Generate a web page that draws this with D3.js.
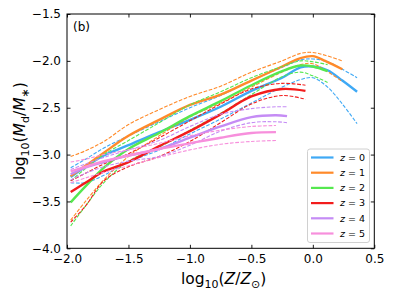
<!DOCTYPE html>
<html><head><meta charset="utf-8">
<script src="https://cdn.jsdelivr.net/npm/d3@7"></script>
<style>body{margin:0;background:#fff}svg{display:block;font-family:"DejaVu Sans",sans-serif}</style>
</head><body><svg id="c" width="394" height="296"></svg>
<script>
// ---- data (log10 Z/Zsun vs log10 Md/M*) ----
const xZ0 = [-1.97,-1.85,-1.7,-1.5,-1.25,-1.0,-0.75,-0.5,-0.25,-0.1,0.0,0.12,0.24,0.36];
const medZ0 = [-3.24,-3.13,-3.01,-2.90,-2.76,-2.63,-2.49,-2.32,-2.18,-2.07,-2.06,-2.10,-2.21,-2.33];
const upZ0  = [-3.14,-3.05,-2.93,-2.80,-2.65,-2.50,-2.37,-2.21,-2.07,-1.99,-1.98,-2.01,-2.09,-2.18];
const loZ0  = [-3.30,-3.30,-3.22,-3.08,-2.95,-2.78,-2.62,-2.45,-2.28,-2.20,-2.18,-2.28,-2.46,-2.67];

const xZ1 = [-1.97,-1.85,-1.7,-1.5,-1.25,-1.0,-0.75,-0.5,-0.25,-0.1,0.0,0.1,0.24];
const medZ1 = [-3.23,-3.12,-2.98,-2.80,-2.63,-2.47,-2.36,-2.21,-2.06,-1.97,-1.95,-2.00,-2.09];
const upZ1  = [-3.02,-2.96,-2.86,-2.68,-2.52,-2.38,-2.27,-2.12,-2.00,-1.92,-1.91,-1.94,-2.00];
const loZ1  = [-3.70,-3.50,-3.27,-3.02,-2.80,-2.60,-2.45,-2.28,-2.12,-2.04,-2.03,-2.10,-2.22];

const xZ2 = [-1.97,-1.85,-1.7,-1.5,-1.25,-1.0,-0.75,-0.5,-0.25,-0.1,0.0,0.12];
const medZ2 = [-3.51,-3.34,-3.14,-2.94,-2.77,-2.59,-2.43,-2.26,-2.11,-2.05,-2.06,-2.11];
const upZ2  = [-3.28,-3.15,-3.00,-2.85,-2.66,-2.47,-2.33,-2.18,-2.06,-2.00,-2.01,-2.04];
const loZ2  = [-3.76,-3.55,-3.30,-3.07,-2.92,-2.74,-2.56,-2.36,-2.17,-2.12,-2.16,-2.23];

const xZ3 = [-1.97,-1.85,-1.7,-1.5,-1.25,-1.0,-0.75,-0.5,-0.25,-0.06];
const medZ3 = [-3.40,-3.30,-3.18,-3.08,-2.91,-2.75,-2.57,-2.38,-2.30,-2.32];
const upZ3  = [-3.28,-3.20,-3.10,-2.99,-2.82,-2.64,-2.46,-2.30,-2.24,-2.26];
const loZ3  = [-3.72,-3.55,-3.28,-3.13,-3.02,-2.86,-2.66,-2.46,-2.37,-2.41];

const xZ4 = [-1.97,-1.85,-1.7,-1.5,-1.25,-1.0,-0.75,-0.5,-0.3,-0.21];
const medZ4 = [-3.21,-3.14,-3.08,-3.01,-2.94,-2.82,-2.70,-2.60,-2.58,-2.59];
const upZ4  = [-3.16,-3.10,-3.03,-2.95,-2.85,-2.70,-2.57,-2.51,-2.49,-2.49];
const loZ4  = [-3.27,-3.20,-3.13,-3.07,-3.02,-2.90,-2.75,-2.66,-2.65,-2.66];

const xZ5 = [-1.97,-1.85,-1.7,-1.5,-1.25,-1.0,-0.75,-0.5,-0.3];
const medZ5 = [-3.18,-3.13,-3.07,-3.01,-2.94,-2.88,-2.82,-2.77,-2.76];
const upZ5  = [-3.08,-3.05,-3.00,-2.95,-2.88,-2.80,-2.74,-2.70,-2.69];
const loZ5  = [-3.30,-3.25,-3.19,-3.12,-3.03,-2.95,-2.89,-2.86,-2.85];

const seriesLabels = ["0","1","2","3","4","5"];
const seriesColors = ["#3fa9f5","#ff8a2a","#55e84f","#f21c1c","#c58cf5","#f78fdc"];
const xTicks = [-2.0,-1.5,-1.0,-0.5,0.0,0.5];
const yTicks = [-4.0,-3.5,-3.0,-2.5,-2.0,-1.5];

const series = [
  {x:xZ0, med:medZ0, up:upZ0, lo:loZ0},
  {x:xZ1, med:medZ1, up:upZ1, lo:loZ1},
  {x:xZ2, med:medZ2, up:upZ2, lo:loZ2},
  {x:xZ3, med:medZ3, up:upZ3, lo:loZ3},
  {x:xZ4, med:medZ4, up:upZ4, lo:loZ4},
  {x:xZ5, med:medZ5, up:upZ5, lo:loZ5}
];

// ---- layout ----
const W=394,H=296, m={l:67,r:19.7,t:14,b:47.7};
const svg=d3.select("#c");
const x=d3.scaleLinear().domain([-2,0.5]).range([m.l,W-m.r]);
const y=d3.scaleLinear().domain([-4,-1.5]).range([H-m.b,m.t]);
const fmt=d=>d3.format(".1f")(d).replace("-","\u2212");

const line=d3.line().x(d=>x(d[0])).y(d=>y(d[1])).curve(d3.curveCatmullRom.alpha(0.5));
const g=svg.append("g");
series.forEach((s,i)=>{
  const c=seriesColors[i];
  [s.up,s.lo].forEach(arr=>{
    g.append("path").datum(s.x.map((v,k)=>[v,arr[k]]))
      .attr("d",line).attr("fill","none").attr("stroke",c)
      .attr("stroke-width",1.1).attr("stroke-dasharray","3.7,1.6");
  });
  g.append("path").datum(s.x.map((v,k)=>[v,s.med[k]]))
    .attr("d",line).attr("fill","none").attr("stroke",c).attr("stroke-width",2.4);
});

// ---- axes ----
const tl=3.5;
const ax=svg.append("g").attr("font-size",12).attr("fill","#000");
ax.append("g").attr("transform",`translate(0,${H-m.b})`)
  .call(d3.axisBottom(x).tickValues(xTicks).tickFormat(fmt).tickSizeInner(-tl).tickSizeOuter(0).tickPadding(6));
ax.append("g").attr("transform",`translate(0,${m.t})`)
  .call(d3.axisTop(x).tickValues(xTicks).tickFormat("").tickSizeInner(-tl).tickSizeOuter(0));
ax.append("g").attr("transform",`translate(${m.l},0)`)
  .call(d3.axisLeft(y).tickValues(yTicks).tickFormat(fmt).tickSizeInner(-tl).tickSizeOuter(0).tickPadding(6));
ax.append("g").attr("transform",`translate(${W-m.r},0)`)
  .call(d3.axisRight(y).tickValues(yTicks).tickFormat("").tickSizeInner(-tl).tickSizeOuter(0));
svg.selectAll(".domain").remove();
svg.selectAll(".tick line").attr("stroke","#000").attr("stroke-width",0.9);
svg.selectAll(".tick text").attr("font-size",12).attr("font-family","DejaVu Sans").attr("fill","#000");
svg.append("rect").attr("x",m.l).attr("y",m.t).attr("width",W-m.l-m.r).attr("height",H-m.t-m.b)
  .attr("fill","none").attr("stroke","#000").attr("stroke-width",1);

// panel label
svg.append("text").attr("x",73).attr("y",30.5).attr("font-size",12).text("(b)");

// x label
const xl=svg.append("text").attr("x",x(-0.75)+3).attr("y",284).attr("text-anchor","middle").attr("font-size",15.5);
xl.append("tspan").text("log");
xl.append("tspan").attr("font-size",11).attr("dy",3.5).text("10");
xl.append("tspan").attr("dy",-3.5).text("(");
xl.append("tspan").attr("font-style","italic").text("Z");
xl.append("tspan").text("/");
xl.append("tspan").attr("font-style","italic").text("Z");
xl.append("tspan").attr("font-size",11).attr("dy",3.5).text("\u2299");
xl.append("tspan").attr("dy",-3.5).text(")");

// y label
const yl=svg.append("text").attr("transform",`translate(25,${(m.t+H-m.b)/2}) rotate(-90)`)
  .attr("text-anchor","middle").attr("font-size",15.5);
yl.append("tspan").text("log");
yl.append("tspan").attr("font-size",11).attr("dy",3.5).text("10");
yl.append("tspan").attr("dy",-3.5).text("(");
yl.append("tspan").attr("font-style","italic").text("M");
yl.append("tspan").attr("font-size",11).attr("dy",3.5).text("d");
yl.append("tspan").attr("dy",-3.5).text("/");
yl.append("tspan").attr("font-style","italic").text("M");
yl.append("tspan").attr("font-size",11).attr("dy",3.5).text("\u2217");
yl.append("tspan").attr("dy",-3.5).text(")");

// legend
const lg=svg.append("g");
lg.append("rect").attr("x",307.5).attr("y",149).attr("width",62).attr("height",93.5)
  .attr("rx",2.5).attr("fill","#fff").attr("fill-opacity",0.8).attr("stroke","#d0d0d0").attr("stroke-width",1);
seriesLabels.forEach((lab,i)=>{
  const yy=157.5+i*15.2;
  lg.append("line").attr("x1",311).attr("x2",333.5).attr("y1",yy).attr("y2",yy)
    .attr("stroke",seriesColors[i]).attr("stroke-width",2.2);
  const t=lg.append("text").attr("x",340).attr("y",yy+3.3).attr("font-size",9.5);
  t.append("tspan").attr("font-style","italic").text("z");
  t.append("tspan").text(" = "+lab);
});
</script></body></html>
